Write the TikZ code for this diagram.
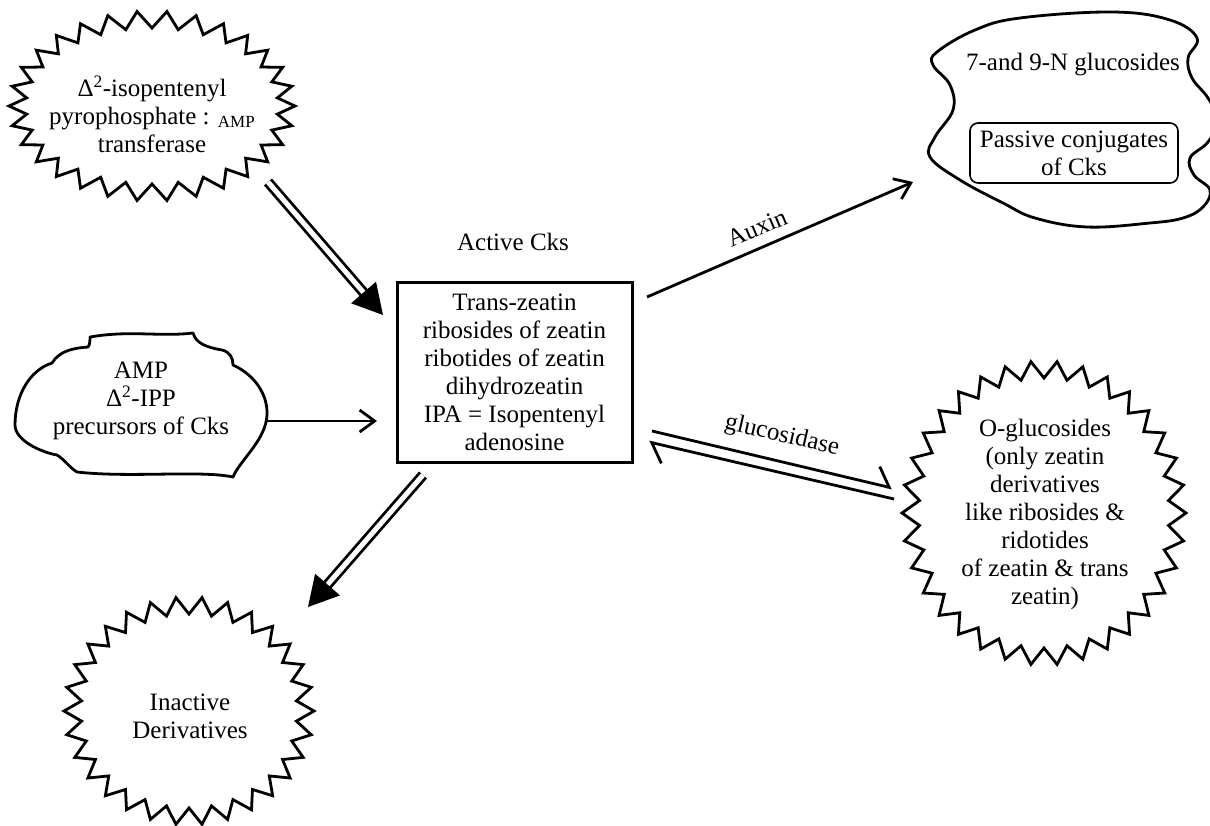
\documentclass[tikz,border=0pt]{standalone}
\usepackage{fontspec}
\setmainfont{Liberation Serif}
\usetikzlibrary{arrows.meta,calc}
\tikzset{
  shapeline/.style={line width=2.8pt, line join=miter},
  txt/.style={font=\fontsize{25}{28}\selectfont, align=center, inner sep=0pt},
  arr/.style={line width=2.8pt, -{Straight Barb[length=15pt,width=22pt]}},
  harp/.style={line width=2.8pt, -{Straight Barb[left,length=14pt,width=36pt]}},
  dbl/.style={double, double distance=5pt, line width=2.8pt},
  headfill/.style={fill=black}
}
% starburst: cx, cy, rx, ry, depth, last index (2N-1), N
\newcommand{\mystarburst}[7]{%
  \draw[shapeline] plot[samples at={0,...,#6}, variable=\k]
    ({#1+(#3-#5*mod(\k,2))*cos(\k*180/#7)}, {#2+(#4-#5*mod(\k,2))*sin(\k*180/#7)}) -- cycle;}
\begin{document}
\begin{tikzpicture}[x=1pt,y=-1pt]
\useasboundingbox (0,0) rectangle (1210,825);

% ---------- shapes ----------
\mystarburst{152}{106}{143}{95}{17}{59}{30}
\mystarburst{1044}{513}{142}{152}{17}{67}{34}
\mystarburst{189}{711}{125}{114}{17}{59}{30}

% AMP cloud
\draw[shapeline, line join=round]
  (90,337) .. controls (130,330) and (160,337) .. (193,333)
  .. controls (196,343) and (205,347) .. (222,350)
  .. controls (230,352) and (233,358) .. (233,365)
  .. controls (255,375) and (268,395) .. (267,415)
  .. controls (266,440) and (240,460) .. (233,477)
  .. controls (200,470) and (130,478) .. (77,472)
  .. controls (70,468) and (65,460) .. (57,455)
  .. controls (40,452) and (15,440) .. (15,425)
  .. controls (15,395) and (30,370) .. (52,363)
  .. controls (60,350) and (75,348) .. (88,347)
  .. controls (90,345) and (90,340) .. (90,337) -- cycle;

% right cloud
\draw[shapeline, line join=round] plot[smooth cycle, tension=0.65] coordinates {
  (937,52) (975,30) (1020,18) (1113,12) (1170,20) (1197,38) (1188,58)
  (1192,78) (1208,98) (1218,120) (1208,142) (1190,158) (1194,175)
  (1210,190) (1203,207) (1183,218) (1150,223) (1087,227) (1035,218)
  (1003,203) (960,180) (930,157) (935,137) (953,110) (950,85) (933,65)};

% ---------- text nodes ----------
\node[txt] (s1) at (152,114) {Δ\textsuperscript{2}-isopentenyl\\pyrophosphate : \raisebox{-3pt}{\fontsize{17}{17}\selectfont AMP}\\transferase};
\node[txt] (amp) at (141,401) {AMP\\Δ\textsuperscript{2}-IPP\\precursors of Cks};
\node[txt] (act) at (513,242) {Active Cks};
\node[txt, draw, line width=3pt, minimum width=235pt, minimum height=180pt] (box) at (514.5,372)
  {Trans-zeatin\\ribosides of zeatin\\ribotides of zeatin\\dihydrozeatin\\IPA = Isopentenyl\\adenosine};
\node[txt] (ng) at (1073,65) {7-and 9-N glucosides};
\node[txt, draw, rounded corners=8pt, line width=1.6pt, minimum width=208pt, minimum height=60pt] (pc) at (1074,153) {Passive conjugates\\of Cks};
\node[txt] (og) at (1045,514) {O-glucosides\\(only zeatin\\derivatives\\like ribosides \&\\ridotides\\of zeatin \& trans\\zeatin)};
\node[txt] (ina) at (190,716) {Inactive\\Derivatives};
\node[txt, rotate=23] (aux) at (757,228) {Auxin};
\node[txt, rotate=-13] (glu) at (782,436) {glucosidase};

% ---------- connector end points ----------
\coordinate (a1s) at (268,182);
\coordinate (a1t) at (383,315);
\coordinate (a2s) at (423,475);
\coordinate (a2t) at (308,607);
\coordinate (a3s) at (267,421);
\coordinate (a3t) at (377,421);
\coordinate (a4s) at (647,297);
\coordinate (a4t) at (913,182);
\coordinate (g1s) at (652,431);
\coordinate (g1t) at (892,488);
\coordinate (g2s) at (894,499);
\coordinate (g2t) at (649,442);

% ---------- connectors ----------
\draw[dbl, shorten >=26pt] (a1s) -- (a1t);
\fill[headfill] ($(a1t)!34pt!29:(a1s)$) -- (a1t) -- ($(a1t)!34pt!-29:(a1s)$) -- cycle;
\draw[dbl, shorten >=26pt] (a2s) -- (a2t);
\fill[headfill] ($(a2t)!34pt!29:(a2s)$) -- (a2t) -- ($(a2t)!34pt!-29:(a2s)$) -- cycle;
\draw[arr] (a3s) -- (a3t);
\draw[arr] (a4s) -- (a4t);
\draw[harp] (g1s) -- (g1t);
\draw[harp] (g2s) -- (g2t);
\end{tikzpicture}
\end{document}
